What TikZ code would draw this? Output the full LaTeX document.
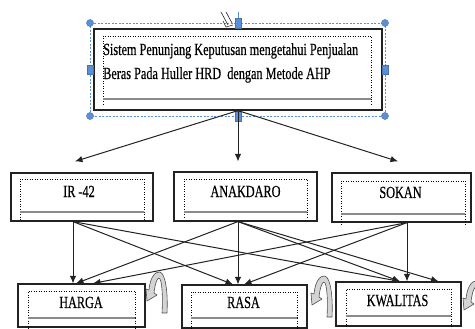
\documentclass[tikz,border=0pt]{standalone}
\usepackage{fontspec}
\newfontfamily\tf[FakeStretch=0.72,FakeBold=0.4]{Liberation Serif}
\usetikzlibrary{arrows.meta,calc}
\definecolor{selblue}{HTML}{5B8FD6}
\definecolor{ln}{HTML}{222222}
\definecolor{bargray}{HTML}{8A8A8A}
\definecolor{arrfill}{HTML}{D4D4D4}
\tikzset{
  box/.style={draw=ln, line width=1.2pt, fill=white, inner sep=0pt},
  lbl/.style={inner sep=0pt, font=\tf\fontsize{17}{20}\selectfont, text=black},
  conn/.style={draw=ln, line width=1pt, -{Latex[length=7.5pt,width=6.5pt]}},
  dotbox/.style={draw=black, line width=0.5pt, dotted},
  gbar/.style={draw=bargray, line width=1.8pt, dash pattern=on 0.7pt off 0.3pt},
  sel/.style={draw=selblue, line width=0.8pt, dash pattern=on 2pt off 1.5pt},
  handle/.style={fill=selblue, draw=selblue!80!black, line width=0.3pt},
  curvy/.style={fill=arrfill, draw=ln!80, line width=0.6pt, line join=round}
}
\newcommand{\innerdeco}[6]{%
  \draw[dotbox] (#1,#4) -- (#1,#2) -- (#3,#2) -- (#3,#4);
  \draw[dotbox] (#1,#5) -- (#1,#6) (#3,#5) -- (#3,#6);
  \draw[gbar] (#1,#5) -- (#3,#5);
}
\newcommand{\curlyarrow}[2]{%
  \begin{scope}[shift={(#1,#2)}]
    \draw[curvy] (3,18) .. controls (4,6) and (9,-1) .. (14,0)
      .. controls (20,2) and (22,23) .. (21,41) -- (16,41)
      .. controls (17,24) and (16,7) .. (13,6)
      .. controls (11,6) and (9,12) .. (8,21)
      -- (11,23) -- (1,29) -- (0,17) -- cycle;
  \end{scope}
}
\begin{document}
\begin{tikzpicture}[x=1pt,y=-1pt]
\useasboundingbox (0,0) rectangle (475,329);
\clip (0,0) rectangle (475,329);

% top box
\node[box, minimum width=288pt, minimum height=81pt] (top) at (238,69.5) {};
\innerdeco{103}{36}{371}{99}{99}{106}
\node[lbl, anchor=base west] (t1) at (103,55) {Sistem Penunjang Keputusan mengetahui Penjualan};
\node[lbl, anchor=base west] (t2) at (103,79) {Beras Pada Huller HRD~ dengan Metode AHP};

% selection frame
\draw[sel] (90,23) rectangle (385,116);
\draw[selblue, line width=0.6pt] (238,12) -- (238,19);
\foreach \hx/\hy in {90/23,385/23,90/116,385/116} \fill[handle] (\hx,\hy) circle (3.6pt);
\foreach \hx/\hy in {238/23,238/116} \filldraw[handle] (\hx-3,\hy-5) rectangle (\hx+3,\hy+5);
\foreach \hx/\hy in {90/70,385/70} \filldraw[handle] (\hx-3,\hy-4.5) rectangle (\hx+3,\hy+4.5);
% rotate glyph
\draw[ln, line width=0.6pt] (221,12) -- (228,25) (226,12) -- (232,23);
\draw[ln, line width=0.6pt] (223,21) -- (226,27) -- (233,25);

% middle boxes
\node[box, minimum width=142pt, minimum height=48pt] (ir) at (82,197) {};
\node[box, minimum width=143pt, minimum height=49pt] (anak) at (245.5,196.5) {};
\node[box, minimum width=139pt, minimum height=49pt] (sokan) at (401.5,197.5) {};
\innerdeco{20}{179}{144}{212}{212}{220}
\innerdeco{184}{179}{307}{212}{212}{219}
\innerdeco{341}{181}{465}{214}{214}{226}
\node[lbl, anchor=base] (lir) at (79,197) {IR -42};
\node[lbl, anchor=base] (lanak) at (245.5,197) {ANAKDARO};
\node[lbl, anchor=base] (lsokan) at (400.5,198) {SOKAN};

% bottom boxes
\node[box, minimum width=127pt, minimum height=43pt] (harga) at (81.5,305.5) {};
\node[box, minimum width=125pt, minimum height=43pt] (rasa) at (244.5,306.5) {};
\node[box, minimum width=125pt, minimum height=44pt] (kual) at (398.5,304) {};
\innerdeco{28}{291}{135}{318}{318}{335}
\innerdeco{191}{292}{297}{318}{318}{335}
\innerdeco{346}{289}{451}{316}{316}{335}
\node[lbl, anchor=base] (lharga) at (81,308) {HARGA};
\node[lbl, anchor=base] (lrasa) at (243.5,308) {RASA};
\node[lbl, anchor=base] (lkual) at (397.5,306) {KWALITAS};

% top arrows
\draw[conn] (top.south) -- ([shift={(-7,-11)}]ir.north);
\draw[conn] (top.south) -- ([shift={(-7.5,-10)}]anak.north);
\draw[conn] (top.south) -- ([shift={(-3.5,-11)}]sokan.north);

% lower arrows
\draw[conn] ([xshift=-9pt]ir.south) -- ([xshift=-8.5pt]harga.north);
\draw[conn] ([xshift=-9pt]ir.south) -- ([xshift=-11.5pt]rasa.north);
\draw[conn] ([xshift=-9pt]ir.south) -- ([xshift=1.5pt]kual.north);
\draw[conn] ([xshift=-7.5pt]anak.south) -- ([xshift=-5.5pt]harga.north);
\draw[conn] ([xshift=-7.5pt]anak.south) -- ([xshift=-6.5pt]rasa.north);
\draw[conn] ([xshift=-7.5pt]anak.south) -- ([xshift=1.5pt]kual.north);
\draw[conn] ([xshift=-7.5pt]anak.south) -- ([xshift=40pt]kual.north);
\draw[conn] ([xshift=5.5pt]sokan.south) -- ([xshift=11.5pt]harga.north);
\draw[conn] ([xshift=5.5pt]sokan.south) -- ([xshift=-0.5pt]rasa.north);
\draw[conn] ([xshift=5.5pt]sokan.south) -- ([xshift=8.5pt]kual.north);

% curved block arrows
\curlyarrow{146}{272}
\curlyarrow{311}{276}
\curlyarrow{463}{281}
\end{tikzpicture}
\end{document}
